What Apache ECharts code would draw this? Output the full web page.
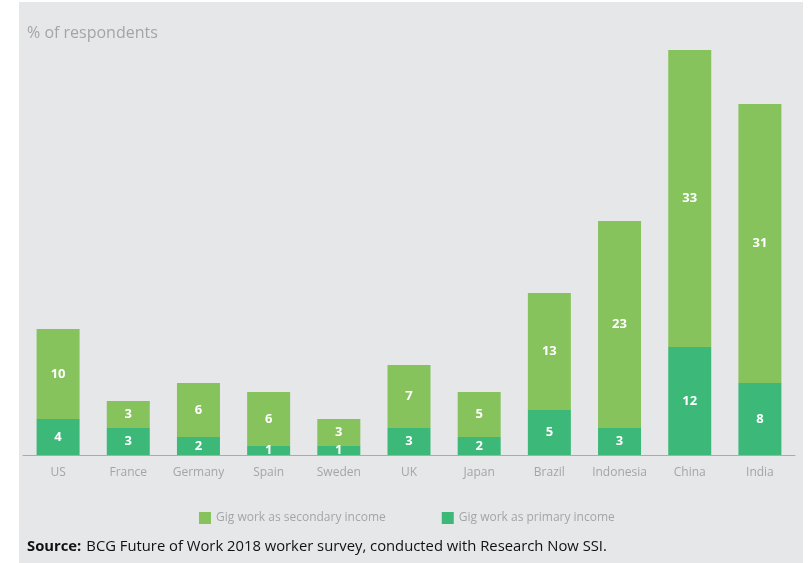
<!DOCTYPE html>
<html>
<head>
<meta charset="utf-8">
<script src="https://cdn.jsdelivr.net/npm/echarts@6/dist/echarts.min.js"></script>
<style>
html,body{margin:0;padding:0;background:#fff;}
#c{width:808px;height:563px;}
</style>
</head>
<body>
<div id="c"></div>
<script>
const categories = ['US','France','Germany','Spain','Sweden','UK','Japan','Brazil','Indonesia','China','India'];
const primaryIncome = [4,3,2,1,1,3,2,5,3,12,8];
const secondaryIncome = [10,3,6,6,3,7,5,13,23,33,31];
const seriesNames = ['Gig work as secondary income','Gig work as primary income'];
const axisTitle = '% of respondents';

const chart = echarts.init(document.getElementById('c'));
const font = '"Open Sans", "Noto Sans", sans-serif';
const labelStyle = {show:true, position:'inside', color:'#fff', fontWeight:'bold', fontSize:13, fontFamily:font};
chart.setOption({
  backgroundColor:'#ffffff',
  animation:false,
  graphic:[{type:'rect', z:-10, silent:true, shape:{x:19,y:2,width:784,height:561}, style:{fill:'#e6e7e9'}}],
  title:[
    {text:axisTitle, left:27, top:25, padding:0, textStyle:{color:'#a3a5a8', fontSize:16, fontWeight:'normal', fontFamily:font}},
    {text:'{b|Source:} {n|BCG Future of Work 2018 worker survey, conducted with Research Now SSI.}', left:27, top:538, padding:0,
     textStyle:{fontWeight:'normal', rich:{b:{fontWeight:'bold', fontSize:14.8, color:'#111', fontFamily:font}, n:{fontWeight:'normal', fontSize:14.8, color:'#111', fontFamily:font}}}}
  ],
  legend:{
    data:seriesNames, left:194, top:507, itemWidth:12, itemHeight:12, itemGap:56, icon:'rect',
    textStyle:{color:'#a3a5a8', fontSize:12, fontFamily:font}
  },
  grid:{left:23, right:13, top:50, bottom:108},
  xAxis:{type:'category', data:categories,
    axisLine:{lineStyle:{color:'#a9abae', width:1}}, axisTick:{show:false},
    axisLabel:{color:'#a3a5a8', fontSize:12, margin:12, interval:0, fontFamily:font}},
  yAxis:{type:'value', min:0, max:45, show:false, splitLine:{show:false}},
  series:[
    {name:seriesNames[1], type:'bar', stack:'a', data:primaryIncome, barWidth:43, itemStyle:{color:'#3cb878'}, label:labelStyle},
    {name:seriesNames[0], type:'bar', stack:'a', data:secondaryIncome, barWidth:43, itemStyle:{color:'#86c35c'}, label:labelStyle}
  ]
});
</script>
</body>
</html>
